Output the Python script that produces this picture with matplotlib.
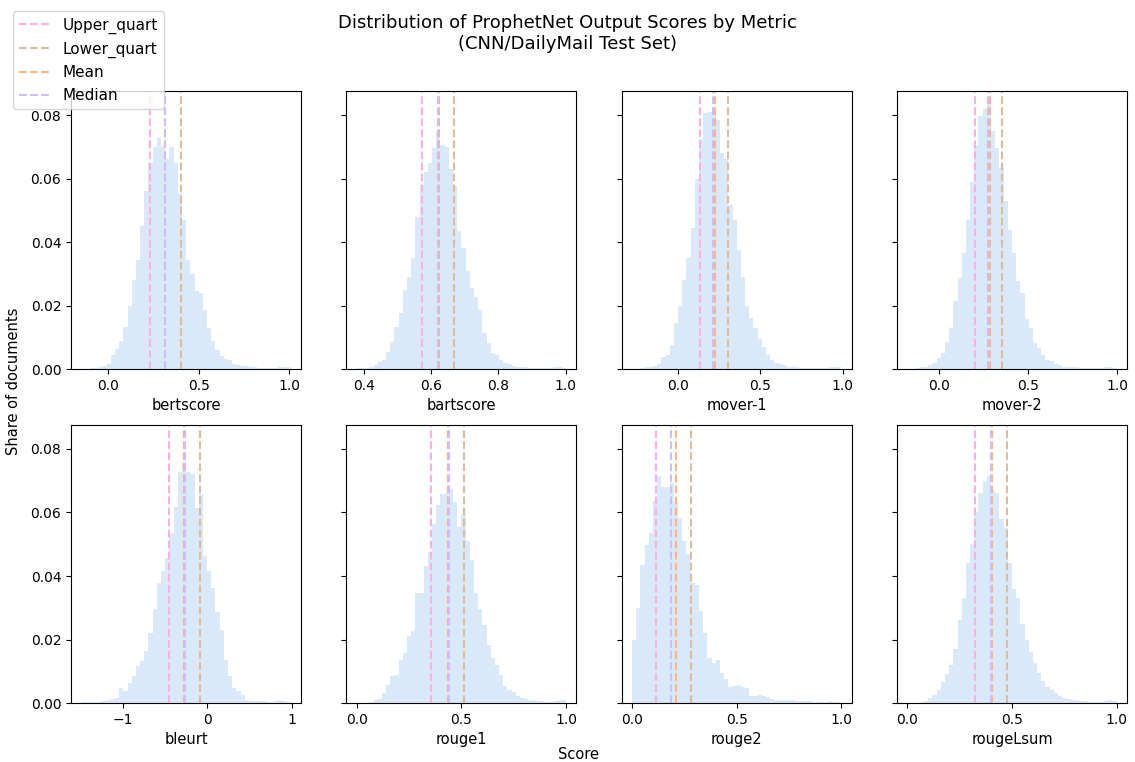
from matplotlib import pyplot as plt
from matplotlib.ticker import MaxNLocator
import numpy as np

# metric names, in panel order
metrics = ['bertscore', 'bartscore', 'mover-1', 'mover-2',
           'bleurt', 'rouge1', 'rouge2', 'rougeLsum']

# min / max score per metric (histogram range, 50 bins)
score_min = [-0.149, 0.379, -0.276, -0.176, -1.483, 0.0, 0.0, 0.0]
score_max = [1.007, 1.001, 0.991, 0.997, 0.982, 1.0, 1.0, 1.0]

# share of documents per bin
bertscore_share = [0.0, 0.0001, 0.0002, 0.0003, 0.0006, 0.001, 0.0016, 0.0044, 0.0062, 0.0088,
                   0.0133, 0.020, 0.028, 0.0345, 0.045, 0.056, 0.065, 0.070, 0.0727, 0.070,
                   0.066, 0.070, 0.065, 0.055, 0.047, 0.0345, 0.030, 0.0246, 0.024, 0.0187,
                   0.0128, 0.0088, 0.006, 0.0042, 0.0032, 0.0027, 0.0016, 0.0013, 0.0011, 0.0009,
                   0.0007, 0.0005, 0.0004, 0.0003, 0.0003, 0.0002, 0.0004, 0.0006, 0.0007, 0.0005]
bartscore_share = [0.0002, 0.0003, 0.0003, 0.0005, 0.0012, 0.0023, 0.003, 0.0055, 0.0086, 0.0133,
                   0.0175, 0.025, 0.029, 0.035, 0.048, 0.058, 0.062, 0.065, 0.0695, 0.075,
                   0.0707, 0.070, 0.063, 0.0576, 0.0434, 0.038, 0.031, 0.0255, 0.0228, 0.0186,
                   0.0113, 0.0081, 0.0052, 0.0044, 0.0028, 0.002, 0.0015, 0.0009, 0.0007, 0.0006,
                   0.0005, 0.0004, 0.0004, 0.0003, 0.0003, 0.0003, 0.0004, 0.0005, 0.0006, 0.0004]
mover1_share = [0.0, 0.0001, 0.0002, 0.0005, 0.0007, 0.0009, 0.0016, 0.0037, 0.0044, 0.0076,
                0.0144, 0.020, 0.028, 0.035, 0.0443, 0.0597, 0.0723, 0.0807, 0.081, 0.0826,
                0.0784, 0.068, 0.066, 0.0518, 0.047, 0.0376, 0.029, 0.020, 0.016, 0.0128,
                0.0094, 0.007, 0.0043, 0.0028, 0.0018, 0.0016, 0.0013, 0.0007, 0.0006, 0.0005,
                0.0004, 0.0003, 0.0003, 0.0003, 0.0003, 0.0003, 0.0004, 0.0006, 0.0007, 0.0005]
mover2_share = [0.0, 0.0001, 0.0002, 0.0005, 0.0007, 0.0012, 0.002, 0.0034, 0.005, 0.0086,
                0.0128, 0.0213, 0.0287, 0.0366, 0.047, 0.059, 0.0707, 0.0797, 0.0818, 0.0834,
                0.075, 0.0695, 0.0633, 0.0528, 0.0439, 0.0366, 0.0276, 0.024, 0.0157, 0.0128,
                0.0081, 0.0065, 0.0044, 0.003, 0.0025, 0.0016, 0.0013, 0.0007, 0.0006, 0.0005,
                0.0005, 0.0004, 0.0004, 0.0003, 0.0003, 0.0003, 0.0004, 0.0005, 0.0006, 0.0004]
bleurt_share = [0.0002, 0.0002, 0.0003, 0.0003, 0.0004, 0.0005, 0.0008, 0.0013, 0.0016, 0.0047,
                0.0037, 0.0063, 0.0084, 0.0118, 0.0132, 0.0165, 0.0221, 0.0297, 0.0379, 0.0416,
                0.0458, 0.0537, 0.0616, 0.0726, 0.0758, 0.0728, 0.0721, 0.0613, 0.0658, 0.0463,
                0.0416, 0.0363, 0.0286, 0.0229, 0.0135, 0.0084, 0.0047, 0.0037, 0.0026, 0.0011,
                0.0007, 0.0007, 0.0006, 0.0005, 0.0004, 0.0004, 0.0007, 0.0011, 0.0006, 0.0003]
rouge1_share = [0.0, 0.0001, 0.0001, 0.0002, 0.0008, 0.0013, 0.0032, 0.0058, 0.0084, 0.0089,
                0.0137, 0.0158, 0.021, 0.0226, 0.0347, 0.0347, 0.0432, 0.0476, 0.0565, 0.0623,
                0.0658, 0.0661, 0.0674, 0.0632, 0.0555, 0.0592, 0.0511, 0.045, 0.0347, 0.0295,
                0.0247, 0.0184, 0.0142, 0.0121, 0.0089, 0.0053, 0.0042, 0.0034, 0.0021, 0.0016,
                0.0013, 0.0009, 0.0008, 0.0006, 0.0005, 0.0004, 0.0004, 0.0005, 0.0011, 0.0009]
rouge2_share = [0.020, 0.030, 0.0434, 0.0497, 0.0537, 0.0637, 0.0714, 0.0679, 0.0679, 0.0693,
                0.0637, 0.0584, 0.0511, 0.0468, 0.0379, 0.0371, 0.029, 0.0221, 0.0142, 0.0126,
                0.0135, 0.0095, 0.0076, 0.005, 0.0055, 0.0057, 0.005, 0.0047, 0.0023, 0.0021,
                0.0026, 0.0023, 0.0019, 0.0013, 0.0011, 0.0011, 0.0009, 0.0008, 0.0008, 0.0006,
                0.0005, 0.0007, 0.0005, 0.0004, 0.0003, 0.0004, 0.0004, 0.0006, 0.0004, 0.0003]
rougelsum_share = [0.0, 0.0, 0.0001, 0.0002, 0.0005, 0.0015, 0.0025, 0.004, 0.0065, 0.009,
                   0.012, 0.017, 0.026, 0.033, 0.044, 0.050, 0.060, 0.066, 0.070, 0.0715,
                   0.067, 0.066, 0.058, 0.055, 0.044, 0.036, 0.033, 0.025, 0.020, 0.016,
                   0.0125, 0.0095, 0.007, 0.005, 0.004, 0.003, 0.0022, 0.0016, 0.0012, 0.001,
                   0.0008, 0.0006, 0.0005, 0.0004, 0.0004, 0.0003, 0.0004, 0.0006, 0.0009, 0.0006]

shares = [bertscore_share, bartscore_share, mover1_share, mover2_share,
          bleurt_share, rouge1_share, rouge2_share, rougelsum_share]

# summary statistics per metric (labels kept as in the original figure)
upper_quart = [0.228, 0.573, 0.135, 0.202, -0.449, 0.356, 0.116, 0.325]
lower_quart = [0.398, 0.668, 0.303, 0.356, -0.083, 0.514, 0.281, 0.478]
mean_score = [0.313, 0.623, 0.228, 0.288, -0.275, 0.437, 0.211, 0.405]
median_score = [0.313, 0.621, 0.214, 0.275, -0.268, 0.439, 0.188, 0.398]

hist_color = '#a1c9f4'
stat_colors = {'Upper_quart': '#fab0e4', 'Lower_quart': '#debb9b',
               'Mean': '#ffb482', 'Median': '#d0bbff'}

fig, axes = plt.subplots(2, 4, figsize=(11.35, 7.62), dpi=100, sharey=True)
fig.subplots_adjust(left=0.0626, right=0.993, top=0.8806, bottom=0.0774,
                    wspace=0.196, hspace=0.201)

for i, ax in enumerate(axes.flat):
    edges = np.linspace(score_min[i], score_max[i], len(shares[i]) + 1)
    ax.hist(edges[:-1], bins=edges, weights=shares[i], color=hist_color, alpha=0.4)
    ax.axvline(upper_quart[i], color=stat_colors['Upper_quart'], linestyle='--', label='Upper_quart')
    ax.axvline(lower_quart[i], color=stat_colors['Lower_quart'], linestyle='--', label='Lower_quart')
    ax.axvline(mean_score[i], color=stat_colors['Mean'], linestyle='--', label='Mean')
    ax.axvline(median_score[i], color=stat_colors['Median'], linestyle='--', label='Median')
    ax.set_xlabel(metrics[i], fontsize=10.5)
    ax.xaxis.set_major_locator(MaxNLocator(nbins=4, steps=[1, 2, 5, 10]))
    ax.yaxis.set_major_locator(MaxNLocator(nbins=5, steps=[1, 2, 5, 10]))

handles, labels = axes[0, 0].get_legend_handles_labels()
fig.legend(handles, labels, loc='upper left', bbox_to_anchor=(0.005, 0.995), fontsize=11)

fig.suptitle('Distribution of ProphetNet Output Scores by Metric\n(CNN/DailyMail Test Set)',
             fontsize=13, y=0.982)
fig.supxlabel('Score', fontsize=10.5, x=0.51, y=0.0)
fig.supylabel('Share of documents', fontsize=10.5, x=0.005)

fig.savefig('out.png', dpi=100)
